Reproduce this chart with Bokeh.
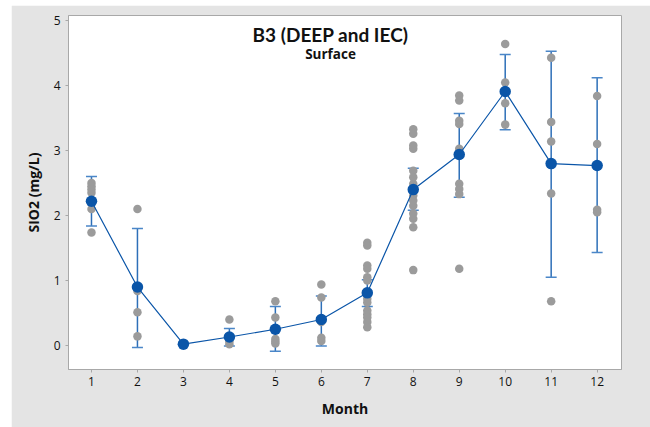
from bokeh.plotting import figure
from bokeh.models import ColumnDataSource, Range1d, Whisker, TeeHead, Label, FixedTicker
from bokeh.embed import file_html
from bokeh.resources import INLINE

# ---- data ----
months = [1, 2, 3, 4, 5, 6, 7, 8, 9, 10, 11, 12]
mean_sio2 = [2.22, 0.90, 0.02, 0.13, 0.25, 0.40, 0.81, 2.40, 2.94, 3.91, 2.80, 2.77]
upper_sio2 = [2.60, 1.80, 0.02, 0.26, 0.60, 0.76, 1.01, 2.73, 3.57, 4.48, 4.53, 4.12]
lower_sio2 = [1.84, -0.03, 0.02, -0.01, -0.09, -0.01, 0.60, 2.08, 2.28, 3.32, 1.05, 1.43]

obs_month = (
    [1] * 6 + [2] * 4 + [3] * 1 + [4] * 3 + [5] * 5 + [6] * 5 + [7] * 13
    + [8] * 14 + [9] * 10 + [10] * 4 + [11] * 5 + [12] * 4
)
obs_sio2 = (
    [2.50, 2.45, 2.40, 2.35, 2.10, 1.74]
    + [2.10, 0.84, 0.51, 0.14]
    + [0.02]
    + [0.40, 0.06, 0.02]
    + [0.68, 0.43, 0.10, 0.06, 0.03]
    + [0.94, 0.74, 0.36, 0.12, 0.07]
    + [1.58, 1.54, 1.23, 1.18, 1.05, 1.00, 0.72, 0.66, 0.54, 0.48, 0.43, 0.36, 0.28]
    + [3.33, 3.26, 3.08, 3.03, 2.69, 2.59, 2.49, 2.31, 2.23, 2.15, 2.03, 1.95, 1.82, 1.16]
    + [3.85, 3.77, 3.46, 3.41, 3.03, 2.97, 2.49, 2.41, 2.33, 1.18]
    + [4.64, 4.05, 3.73, 3.40]
    + [4.43, 3.44, 3.14, 2.34, 0.68]
    + [3.84, 3.10, 2.09, 2.05]
)
y_ticks = [0, 1, 2, 3, 4, 5]
title_text = "B3 (DEEP and IEC)"
subtitle_text = "Surface"
x_label = "Month"
y_label = "SIO2 (mg/L)"

FONT = "Open Sans"
BG = "#e4e4e4"
BLUE = "#0a55a8"
BAR = "#2d6fb8"
GRAY = "#9b9b9b"

p = figure(width=639, height=422, output_backend="svg", toolbar_location=None,
           x_range=Range1d(0.5, 12.53), y_range=Range1d(-0.37, 5.08),
           min_border_left=57, min_border_right=29, min_border_top=10, min_border_bottom=58)
p.styles = {"margin-left": "11px", "margin-top": "5px"}
p.border_fill_color = BG
p.background_fill_color = "white"
p.outline_line_color = "#a8a8a8"
p.grid.visible = False

obs = ColumnDataSource(dict(x=obs_month, y=obs_sio2))
summ = ColumnDataSource(dict(x=months, m=mean_sio2, up=upper_sio2, lo=lower_sio2))

p.scatter("x", "y", source=obs, size=8.5, color=GRAY, line_color=None)

w = Whisker(base="x", upper="up", lower="lo", source=summ,
            line_color=BAR, line_width=1.5,
            upper_head=TeeHead(size=11, line_color="#4a86c8", line_width=1.5),
            lower_head=TeeHead(size=11, line_color="#4a86c8", line_width=1.5))
p.add_layout(w)

p.line("x", "m", source=summ, line_color=BLUE, line_width=1.2)
p.scatter("x", "m", source=summ, size=11.5, color=BLUE, line_color=None)

for ax in (p.xaxis[0], p.yaxis[0]):
    ax.axis_line_color = "#a8a8a8"
    ax.major_tick_line_color = "#a8a8a8"
    ax.major_tick_out = 3
    ax.major_tick_in = 0
    ax.minor_tick_line_color = None
    ax.major_label_text_font = FONT
    ax.major_label_text_font_size = "12px"
    ax.major_label_text_color = "#111111"
    ax.axis_label_text_font = FONT
    ax.axis_label_text_font_size = "14px"
    ax.axis_label_text_font_style = "bold"
    ax.axis_label_text_color = "#111111"

p.xaxis.ticker = FixedTicker(ticks=months)
p.yaxis.ticker = FixedTicker(ticks=y_ticks)
p.xaxis.axis_label = x_label
p.yaxis.axis_label = y_label
p.xaxis.major_label_standoff = 4
p.yaxis.major_label_standoff = 5
p.xaxis.axis_label_standoff = 10
p.yaxis.axis_label_standoff = 8

p.add_layout(Label(x=6.2, y=4.79, text=title_text, text_align="center",
                   text_baseline="alphabetic", text_font="Lato", text_font_size="19px",
                   text_font_style="bold", text_color="#111111"))
p.add_layout(Label(x=6.2, y=4.48, text=subtitle_text, text_align="center",
                   text_baseline="alphabetic", text_font=FONT, text_font_size="13.5px",
                   text_font_style="bold", text_color="#111111"))

open("out.html", "w").write(file_html(p, INLINE))
